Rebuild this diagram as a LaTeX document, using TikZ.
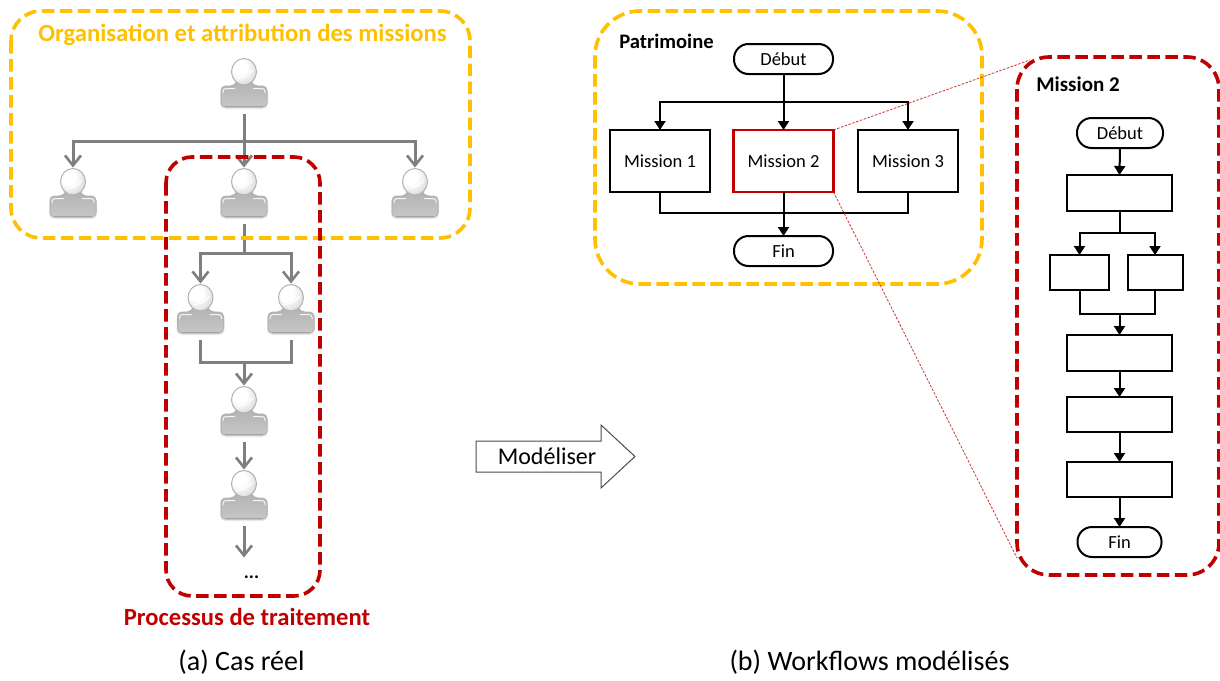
\documentclass[tikz,border=0pt]{standalone}
\usepackage{fontspec}
\setmainfont{Carlito}
\usetikzlibrary{arrows.meta,calc}
\definecolor{jaune}{HTML}{FFC000}
\definecolor{rouge}{HTML}{C00000}
\definecolor{gristrait}{HTML}{7F7F7F}
\pgfdeclareradialshading{tete}{\pgfpoint{-10bp}{10bp}}{color(0bp)=(white); color(14bp)=(white); color(36bp)=(black!16); color(56bp)=(black!38); color(100bp)=(black!38)}
\tikzset{
  zone/.style={line width=3.6pt,rounded corners=#1,dash pattern=on 12.5pt off 5.5pt},
  personne/.style={minimum width=46pt,minimum height=56pt,inner sep=0pt,outer sep=0pt},
  fl/.style={line width=3pt,draw=gristrait},
  flt/.style={fl,-{Straight Barb[length=10pt,width=16pt,line width=2.6pt]},shorten >=0.5pt},
  boite/.style={draw=black,line width=2pt,fill=white,inner sep=0pt,outer sep=0pt,font=\fontsize{18.5}{22}\selectfont},
  pill/.style={boite,rounded corners=14.5pt,minimum width=#1,minimum height=30pt},
  nr/.style={line width=2pt,draw=black},
  nf/.style={nr,-{Triangle[length=9pt,width=11pt]}},
  lien/.style={draw=rouge!80,line width=.8pt,dash pattern=on 2.5pt off 1.5pt},
  pics/buste/.style={code={
    \fill[black!30,opacity=.3,rounded corners=5pt] (-24,2)--(24,2)--(24,23)--(-24,23)--cycle;
    \path[draw=black!30,line width=1pt,top color=black!30,bottom color=black!22,rounded corners=4.5pt]
      (-23,21)--(-23,0)--(-9,0)--(-7,-5)--(7,-5)--(9,0)--(23,0)--(23,21)--cycle;
    \draw[white,opacity=.85,line width=1pt,rounded corners=3pt] (-21,7)--(-21,2.5)--(-9,2.5);
    \draw[white,opacity=.85,line width=1pt,rounded corners=3pt] (21,7)--(21,2.5)--(9,2.5);
    \draw[black!45,line width=1pt,opacity=.5] (-19,20.5)--(19,20.5);
    \shade[draw=black!30,line width=1pt,shading=tete]
      (0,-14.3) ellipse [x radius=12.5pt,y radius=13.2pt];
    \draw[white,line width=1.2pt,opacity=.9] (-7,-7.5) .. controls (-2,-7.5) and (5,-10) .. (9,-16);
  }}
}
\newcommand{\pers}[3]{\node[personne] (#1) at (#2,#3) {}; \pic at (#1) {buste};}
\begin{document}
\begin{tikzpicture}[x=1pt,y=-1pt]
\useasboundingbox (0,0) rectangle (1220,680);
% ---- partie (a)
\pers{pa}{244}{86}
\pers{pb}{73}{196}
\pers{pc}{244}{196}
\pers{pd}{415}{196}
\pers{pe}{200.5}{312}
\pers{pf}{291}{312}
\pers{pg}{244}{414}
\pers{ph}{244}{498}
\coordinate (ca) at (244,141);
\coordinate (cb) at (244,253);
\coordinate (cc) at (244,362);
\coordinate (fin) at (244,558);
\draw[fl] (pa.south) -- (ca);
\draw[flt] (ca) -| (pb.north);
\draw[flt] (ca) -- (pc.north);
\draw[flt] (ca) -| (pd.north);
\draw[fl] (pc.south) -- (cb);
\draw[flt] (cb) -| (pe.north);
\draw[flt] (cb) -| (pf.north);
\draw[fl] (pe.south) |- (cc);
\draw[fl] (pf.south) |- (cc);
\draw[flt] (cc) -- (pg.north);
\draw[flt] (pg.south) -- (ph.north);
\draw[flt] (ph.south) -- (fin);
\draw[zone=30pt,draw=jaune] (11,11) rectangle (470,238);
\draw[zone=26pt,draw=rouge] (166,157) rectangle (320,596);
\node[text=jaune,font=\fontsize{24.7}{28}\bfseries\selectfont] (torg) at (242.5,35) {Organisation et attribution des missions};
\node[text=rouge,font=\fontsize{24.6}{28}\bfseries\selectfont] (ttr) at (247,616.5) {Processus de traitement};
\node[font=\fontsize{19}{20}\bfseries\selectfont] (pts) at (251.5,577) {...};
\node[font=\fontsize{28}{32}\selectfont] (capa) at (241.5,662) {(a) Cas réel};
% ---- fleche
\draw[line width=1pt,draw=black!70,fill=white] (476,441)--(601,441)--(601,425)--(635,456.5)--(601,488)--(601,472)--(476,472)--cycle;
\node[font=\fontsize{24}{28}\selectfont] (tmod) at (547,456.5) {Modéliser};
% ---- partie (b)
\draw[zone=45pt,draw=jaune] (595,11) rectangle (982,284);
\draw[zone=32pt,draw=rouge] (1017,57) rectangle (1219,575);
\node[font=\fontsize{20.6}{24}\bfseries\selectfont] (tpat) at (666.5,41) {Patrimoine};
\node[font=\fontsize{21}{24}\bfseries\selectfont] (tmis) at (1078,84) {Mission 2};
\node[pill=99pt] (deb) at (783.5,59) {Début};
\node[boite,minimum width=100pt,minimum height=62pt] (m1) at (660,161) {Mission 1};
\node[boite,minimum width=100pt,minimum height=62pt,draw=rouge,line width=2.4pt] (m2) at (783.5,161) {Mission 2};
\node[boite,minimum width=100pt,minimum height=62pt] (m3) at (908,161) {Mission 3};
\node[pill=99pt] (fi) at (783.5,251) {Fin};
\coordinate (c1) at (783.5,102);
\coordinate (c2) at (783.5,213);
\draw[nr] (deb.south) -- (c1);
\draw[nf] (c1) -| (m1.north);
\draw[nf] (c1) -- (m2.north);
\draw[nf] (c1) -| (m3.north);
\draw[nr] (m1.south) |- (c2);
\draw[nr] (m3.south) |- (c2);
\draw[nr] (m2.south) -- (c2);
\draw[nf] (c2) -- (fi.north);
% ---- Mission 2
\node[pill=86pt] (d2) at (1120,133) {Début};
\node[boite,minimum width=105pt,minimum height=36pt] (b1) at (1119.5,193) {};
\node[boite,minimum width=59pt,minimum height=35pt] (b2) at (1079.5,272.5) {};
\node[boite,minimum width=55pt,minimum height=35pt] (b3) at (1155,272.5) {};
\node[boite,minimum width=105pt,minimum height=36pt] (b4) at (1119.5,353) {};
\node[boite,minimum width=105pt,minimum height=35pt] (b5) at (1119.5,414.5) {};
\node[boite,minimum width=105pt,minimum height=35pt] (b6) at (1119.5,479.5) {};
\node[pill=84pt] (f2) at (1119.5,542) {Fin};
\coordinate (c3) at (1119.5,233);
\coordinate (c4) at (1119.5,314);
\draw[nf] (d2.south) -- (b1.north);
\draw[nr] (b1.south) -- (c3);
\draw[nf] (c3) -| (b2.north);
\draw[nf] (c3) -| (b3.north);
\draw[nr] (b2.south) |- (c4);
\draw[nr] (b3.south) |- (c4);
\draw[nf] (c4) -- (b4.north);
\draw[nf] (b4.south) -- (b5.north);
\draw[nf] (b5.south) -- (b6.north);
\draw[nf] (b6.south) -- (f2.north);
\coordinate (h2) at (1030,60);
\coordinate (b2c) at (1017,558);
\draw[lien] (m2.north east) -- (h2);
\draw[lien] (m2.south east) -- (b2c);
\node[font=\fontsize{28}{32}\selectfont] (capb) at (869.5,662) {(b) Workflows modélisés};
\end{tikzpicture}
\end{document}
